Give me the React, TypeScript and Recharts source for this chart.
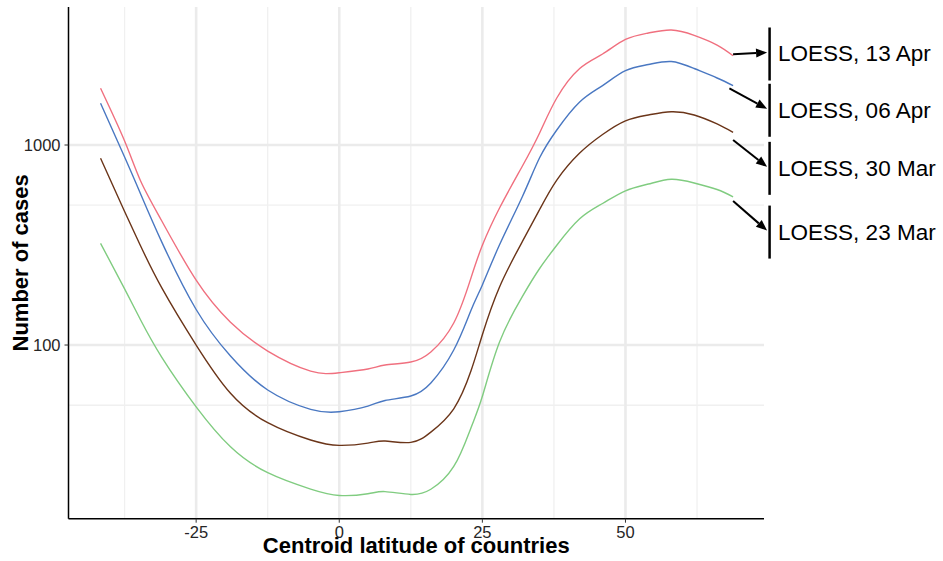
import {
  CartesianGrid,
  Label,
  Line,
  LineChart,
  ReferenceDot,
  XAxis,
  YAxis,
} from "recharts";

const latitudes = [
  -41.7, -37.5, -34.7, -31, -25, -19, -12.5, -5, 0, 5, 8, 12.5, 16, 20, 23, 25,
  28, 32, 35, 38, 42, 46, 50, 54, 58, 62, 66, 68.8,
];

const apr13 = [
  1921, 1047, 661, 417, 211, 130, 93.3, 74.1, 72.7, 75.9, 79.4, 82.2, 92.3,
  128.8, 216, 315, 484, 785, 1148, 1718, 2413, 2851, 3370, 3631, 3758, 3535,
  3162, 2796,
];
const apr06 = [
  1616, 871, 569, 327, 150.5, 88.1, 59.6, 47.7, 46.4, 49.5, 52.8, 55.6, 64.6,
  94.4, 148.8, 199.7, 317, 553, 863, 1189, 1641, 1982, 2352, 2526, 2615, 2413,
  2163, 1980,
];
const mar30 = [
  858, 465, 312.6, 193, 100, 57.4, 40.9, 33.5, 31.5, 32.3, 33.1, 32.6, 36.7,
  48.0, 74.1, 112.6, 195.2, 329.6, 475.9, 668, 912, 1129, 1321, 1413, 1466,
  1413, 1274, 1157,
];
const mar23 = [
  322.5, 191, 133.4, 86.8, 49.1, 31.0, 23.0, 19.05, 17.7, 18.05, 18.5, 17.9,
  19.0, 24.7, 38.5, 55.4, 103.6, 175.2, 241.3, 315.5, 427.6, 510, 590, 638,
  674, 646, 599, 551,
];

const xTicks = [-25, 0, 25, 50];
const xMinor = [-37.5, -12.5, 12.5, 37.5, 62.5];
const yTicks = [100, 1000];
const yMinor = [50, 500];

const font = "'Liberation Sans', Arial, sans-serif";

// label placement is pixel offsets from each line's last point
const series = [
  { key: "apr13", name: "LOESS, 13 Apr", values: apr13, color: "#F0707F", startDx: 0, startDy: -1.4, labelDy: -1.7 },
  { key: "apr06", name: "LOESS, 06 Apr", values: apr06, color: "#4A78C2", startDx: -3.7, startDy: 2.6, labelDy: 24.6 },
  { key: "mar30", name: "LOESS, 30 Mar", values: mar30, color: "#6B3519", startDx: 0, startDy: 7.7, labelDy: 36 },
  { key: "mar23", name: "LOESS, 23 Mar", values: mar23, color: "#80CC80", startDx: 0, startDy: 4.3, labelDy: 35.3 },
];

const data = latitudes.map((lat, i) => {
  const row: Record<string, number> = { lat };
  series.forEach((s) => (row[s.key] = s.values[i]));
  return row;
});

const XTick = (props: any) => {
  const { x, y, payload } = props;
  return (
    <text x={x} y={y + 12.5} textAnchor="middle" fontSize={16.5} fontFamily={font} fill="#262626">
      {payload.value}
    </text>
  );
};

const YTick = (props: any) => {
  const { x, y, payload } = props;
  return (
    <text x={x} y={y + 6} textAnchor="end" fontSize={16.5} fontFamily={font} fill="#262626">
      {payload.value}
    </text>
  );
};

const EndLabel = (props: any) => {
  const { cx, cy, item } = props;
  const x0 = cx + item.startDx;
  const y0 = cy + item.startDy;
  const mid = cy + item.labelDy;
  const x1 = cx + 34;
  const y1 = mid - 1.5;
  const a = Math.atan2(y1 - y0, x1 - x0);
  const len = 11;
  const hw = 4.5;
  const bx = x1 - len * Math.cos(a);
  const by = y1 - len * Math.sin(a);
  const pts = [
    `${x1},${y1}`,
    `${bx - hw * Math.sin(a)},${by + hw * Math.cos(a)}`,
    `${bx + hw * Math.sin(a)},${by - hw * Math.cos(a)}`,
  ].join(" ");
  return (
    <g>
      <line x1={x0} y1={y0} x2={bx} y2={by} stroke="#000" strokeWidth={2} />
      <polygon points={pts} fill="#000" />
      <line x1={cx + 36.5} y1={mid - 26.5} x2={cx + 36.5} y2={mid + 26.5} stroke="#000" strokeWidth={2.5} />
      <text x={cx + 45} y={mid} dominantBaseline="central" fontSize={22.5} fontFamily={font} fill="#000">
        {item.name}
      </text>
    </g>
  );
};

export default function App() {
  const last = latitudes.length - 1;
  return (
    <div style={{ position: "absolute", left: 0, top: 0, width: 943, height: 561, background: "#fff" }}>
      <LineChart
        width={943}
        height={561}
        data={data}
        margin={{ top: 7, right: 179, bottom: 17.3, left: 38.5 }}
      >
        <CartesianGrid
          horizontalValues={yMinor}
          verticalValues={xMinor}
          stroke="#F0F0F0"
          strokeWidth={1.3}
        />
        <CartesianGrid
          horizontalValues={yTicks}
          verticalValues={xTicks}
          stroke="#EBEBEB"
          strokeWidth={2.6}
        />
        <XAxis
          dataKey="lat"
          type="number"
          domain={[-47.3, 74.2]}
          allowDataOverflow
          ticks={xTicks}
          height={25}
          tickSize={4}
          tickMargin={3}
          axisLine={{ stroke: "#000", strokeWidth: 1.5 }}
          tickLine={{ stroke: "#333" }}
          tick={<XTick />}
        >
          <Label
            content={(p: any) => (
              <text
                x={p.viewBox.x + p.viewBox.width / 2}
                y={p.viewBox.y + 34.3}
                textAnchor="middle"
                fontSize={22}
                fontWeight="bold"
                fontFamily={font}
                fill="#000"
              >
                Centroid latitude of countries
              </text>
            )}
          />
        </XAxis>
        <YAxis
          type="number"
          scale="log"
          domain={[13.54, 4898]}
          allowDataOverflow
          ticks={yTicks}
          width={30}
          tickSize={4}
          tickMargin={4}
          axisLine={{ stroke: "#000", strokeWidth: 1.5 }}
          tickLine={{ stroke: "#333" }}
          tick={<YTick />}
        >
          <Label
            content={(p: any) => {
              const cy = p.viewBox.y + p.viewBox.height / 2;
              return (
                <text
                  x={28}
                  y={cy}
                  transform={`rotate(-90, 28, ${cy})`}
                  textAnchor="middle"
                  fontSize={22}
                  fontWeight="bold"
                  fontFamily={font}
                  fill="#000"
                >
                  Number of cases
                </text>
              );
            }}
          />
        </YAxis>
        {series.map((s) => (
          <Line
            key={s.key}
            dataKey={s.key}
            type="natural"
            stroke={s.color}
            strokeWidth={1.4}
            dot={false}
            activeDot={false}
            isAnimationActive={false}
          />
        ))}
        {series.map((s) => (
          <ReferenceDot
            key={`end-${s.key}`}
            x={latitudes[last]}
            y={s.values[last]}
            r={0}
            ifOverflow="visible"
            shape={(p: any) => <EndLabel cx={p.cx} cy={p.cy} item={s} />}
          />
        ))}
      </LineChart>
    </div>
  );
}
